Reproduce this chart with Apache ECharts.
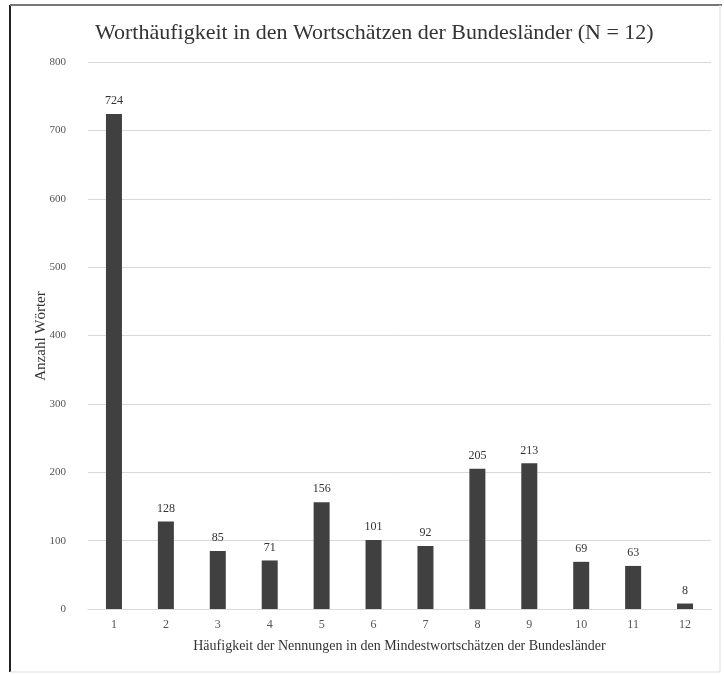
<!DOCTYPE html>
<html><head><meta charset="utf-8">
<script src="https://cdn.jsdelivr.net/npm/echarts@6/dist/echarts.min.js"></script>
<style>html,body{margin:0;padding:0;background:#fff}#c{width:724px;height:674px}</style>
</head><body><div id="c"></div>
<script>
const categories = ['1','2','3','4','5','6','7','8','9','10','11','12'];
const values = [724,128,85,71,156,101,92,205,213,69,63,8];
const yTicks = [0,100,200,300,400,500,600,700,800];
const yTitle = 'Anzahl Wörter';

const F = '"Liberation Serif", "DejaVu Serif", serif';
const chart = echarts.init(document.getElementById('c'));
chart.setOption({
  backgroundColor: '#fff',
  animation: false,
  title: {
    text: 'Worthäufigkeit in den Wortschätzen der Bundesländer (N = 12)',
    left: 90, top: 17,
    textStyle: { fontFamily: F, fontSize: 22, fontWeight: 'normal', color: '#333' }
  },
  grid: { left: 88, right: 13, top: 62, bottom: 65 },
  xAxis: {
    type: 'category', data: categories,
    name: 'Häufigkeit der Nennungen in den Mindestwortschätzen der Bundesländer',
    nameLocation: 'middle', nameGap: 30,
    nameTextStyle: { fontFamily: F, fontSize: 14, color: '#333' },
    axisLine: { lineStyle: { color: '#d9d9d9' } },
    axisTick: { show: false },
    axisLabel: { fontFamily: F, fontSize: 12, color: '#555', margin: 10 }
  },
  yAxis: {
    type: 'value', min: yTicks[0], max: yTicks[yTicks.length-1], interval: 100,
    axisLine: { show: false }, axisTick: { show: false },
    axisLabel: { fontFamily: F, fontSize: 11, color: '#555', margin: 22 },
    splitLine: { lineStyle: { color: '#d9d9d9' } }
  },
  series: [{
    type: 'bar', data: values, barWidth: 16,
    itemStyle: { color: '#404040' },
    label: { show: true, position: 'top', distance: 7, fontFamily: F, fontSize: 12, color: '#333' }
  }],
  graphic: [
    { type: 'text', x: 41, y: 336, rotation: Math.PI / 2,
      style: { text: yTitle, font: '15px ' + F, fill: '#333', align: 'center', verticalAlign: 'middle' } },
    { type: 'line', shape: { x1: 10, y1: 5, x2: 10, y2: 672 }, style: { stroke: '#222', lineWidth: 2 } },
    { type: 'line', shape: { x1: 10, y1: 5, x2: 722, y2: 5 }, style: { stroke: '#777', lineWidth: 2 } },
    { type: 'line', shape: { x1: 720, y1: 5, x2: 720, y2: 672 }, style: { stroke: '#ddd', lineWidth: 1 } },
    { type: 'line', shape: { x1: 10, y1: 672, x2: 720, y2: 672 }, style: { stroke: '#ddd', lineWidth: 1 } }
  ]
});
</script></body></html>
